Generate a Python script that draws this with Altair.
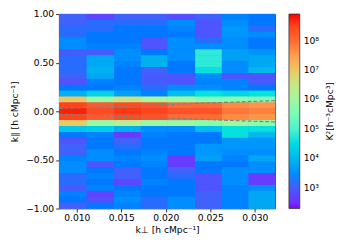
import altair as alt
import numpy as np
import pandas as pd

# k_perp bin edges [h cMpc^-1]
kperp_edges = [0.0080, 0.0111, 0.0142, 0.0172, 0.0202, 0.0233, 0.0263, 0.0293, 0.0323]
# k_par bins: 33 equal bins between -1 and 1
n_kpar = 33
kpar_edges = np.linspace(-1.0, 1.0, n_kpar + 1)

# log10 of power per cell, listed from top row (k_par = +1) to bottom row (k_par = -1)
col1 = [3.1, 3.1, 3.2, 3.2, 3.5, 3.5, 3.0, 3.2, 3.2, 3.2, 3.1, 2.8, 3.3, 3.9, 7.0, 8.5, 8.8,
        8.5, 7.0, 4.2, 3.3, 2.9, 3.1, 3.1, 3.4, 3.5, 3.5, 3.2, 3.2, 3.0, 3.4, 3.3, 3.1]
col2 = [2.7, 3.2, 3.2, 3.3, 3.3, 3.4, 3.0, 3.8, 3.8, 3.9, 3.8, 3.4, 3.3, 4.4, 5.9, 8.2, 8.4,
        8.2, 5.9, 4.3, 3.4, 3.3, 3.3, 3.5, 3.5, 2.9, 3.3, 3.4, 3.3, 3.4, 2.7, 2.8, 3.3]
col3 = [3.1, 3.2, 3.3, 3.3, 3.3, 3.4, 3.5, 3.5, 3.4, 3.3, 3.3, 3.3, 3.4, 3.7, 6.6, 8.4, 8.6,
        8.4, 6.3, 3.9, 2.6, 3.1, 3.2, 3.3, 3.4, 3.3, 3.1, 3.1, 2.7, 3.3, 3.4, 3.5, 3.4]
col4 = [3.1, 3.2, 3.3, 3.3, 2.9, 2.9, 3.3, 3.9, 3.9, 3.1, 3.0, 3.0, 3.2, 3.4, 6.1, 8.3, 8.5,
        8.3, 5.9, 3.5, 3.4, 3.3, 3.3, 3.4, 3.5, 3.4, 3.3, 3.3, 3.4, 3.3, 3.3, 3.2, 3.2]
col5 = [2.8, 3.5, 3.4, 3.3, 3.5, 3.5, 3.5, 3.5, 3.3, 3.3, 2.9, 2.9, 3.5, 4.1, 5.9, 8.0, 8.3,
        8.0, 5.9, 3.5, 3.3, 3.3, 3.3, 3.3, 2.6, 2.6, 3.1, 3.2, 3.3, 3.3, 3.3, 3.5, 3.5]
col6 = [3.1, 2.9, 2.9, 2.9, 3.2, 3.5, 4.7, 4.7, 4.7, 4.6, 3.5, 3.4, 3.5, 4.6, 5.6, 8.0, 8.3,
        8.0, 5.7, 4.1, 3.3, 3.3, 3.6, 3.6, 3.7, 3.3, 3.3, 2.9, 2.9, 2.9, 3.1, 3.1, 3.1]
col7 = [3.4, 3.5, 3.6, 3.6, 3.5, 3.5, 3.7, 3.7, 3.5, 3.5, 2.9, 3.4, 3.4, 4.4, 5.7, 7.7, 7.9,
        7.7, 6.0, 4.6, 4.6, 3.6, 3.6, 3.5, 3.4, 3.3, 3.5, 3.5, 3.5, 3.4, 3.4, 3.4, 3.4]
col8 = [3.3, 3.3, 3.2, 3.5, 3.3, 3.3, 3.6, 3.8, 3.8, 4.0, 2.9, 3.0, 3.3, 4.6, 5.6, 7.6, 7.8,
        7.6, 5.8, 4.6, 4.0, 3.6, 3.6, 3.5, 3.8, 3.5, 3.5, 2.6, 2.6, 3.5, 3.8, 3.8, 3.8]
columns = [col1, col2, col3, col4, col5, col6, col7, col8]

# horizon wedge (dashed lines)
wedge_x = [0.0080, 0.0323]
wedge_upper = [0.03, 0.11]
wedge_lower = [-0.03, -0.11]

# colour bar ticks (log10)
cbar_ticks = [3, 4, 5, 6, 7, 8]
cbar_min, cbar_max = 2.3, 8.9
cbar_title = "K²[h⁻³cMpc³]"
rainbow = ["#8000ff", "#4062fa", "#00b4ec", "#40ecd4", "#80ffb4",
           "#bfec8e", "#ffb462", "#ff6232", "#ff0000"]

rows = []
for j, col in enumerate(columns):
    for i, v in enumerate(col):
        rows.append(dict(x0=kperp_edges[j], x1=kperp_edges[j + 1],
                         y0=float(kpar_edges[n_kpar - i - 1]), y1=float(kpar_edges[n_kpar - i]),
                         logP=v))
df = pd.DataFrame(rows)

wedge_df = pd.DataFrame(
    [dict(x=x, y=y, side="upper") for x, y in zip(wedge_x, wedge_upper)]
    + [dict(x=x, y=y, side="lower") for x, y in zip(wedge_x, wedge_lower)]
)

font = "DejaVu Sans"
fs = 9.3
stops = [cbar_min + k * (cbar_max - cbar_min) / 8 for k in range(9)]
cscale = alt.Scale(domain=stops, range=rainbow, type="linear")

xscale = alt.Scale(domain=[kperp_edges[0], kperp_edges[-1]], nice=False, zero=False)
yscale = alt.Scale(domain=[-1, 1], nice=False, zero=False)

label_expr = ("datum.value == 3 ? '10³' : datum.value == 4 ? '10⁴' : datum.value == 5 ? '10⁵' : "
              "datum.value == 6 ? '10⁶' : datum.value == 7 ? '10⁷' : '10⁸'")

heat = alt.Chart(df).mark_rect().encode(
    x=alt.X("x0:Q", scale=xscale,
            axis=alt.Axis(title="k⊥ [h cMpc⁻¹]", values=[0.010, 0.015, 0.020, 0.025, 0.030],
                          format=".3f", titlePadding=3, labelOverlap=False)),
    x2="x1:Q",
    y=alt.Y("y0:Q", scale=yscale,
            axis=alt.Axis(title="k∥ [h cMpc⁻¹]", values=[-1, -0.75, -0.5, -0.25, 0, 0.25, 0.5, 0.75, 1],
                          format=".2f", titlePadding=6, labelOverlap=False)),
    y2="y1:Q",
    color=alt.Color("logP:Q", scale=cscale,
                    legend=alt.Legend(type="gradient", title=None, orient="right", offset=11,
                                      padding=0, direction="vertical",
                                      gradientLength=198, gradientThickness=11,
                                      values=cbar_ticks, labelExpr=label_expr,
                                      labelFont=font, labelFontSize=fs, labelOverlap=False,
                                      gradientStrokeColor="#333", gradientStrokeWidth=0.8,
                                      labelOffset=4, labelColor="black")),
)

# identical second pass to hide anti-aliasing seams between cells
heat2 = alt.Chart(df).mark_rect().encode(
    x=alt.X("x0:Q", scale=xscale), x2="x1:Q",
    y=alt.Y("y0:Q", scale=yscale), y2="y1:Q",
    color=alt.Color("logP:Q", scale=cscale, legend=None),
)

wedge = alt.Chart(wedge_df).mark_line(color="#808080", strokeDash=[4, 2], strokeWidth=1.2).encode(
    x=alt.X("x:Q", scale=xscale),
    y=alt.Y("y:Q", scale=yscale),
    detail="side:N",
)

ctitle = alt.Chart(pd.DataFrame({"t": [cbar_title]})).mark_text(
    angle=270, font=font, fontSize=fs, color="black", align="center", baseline="middle"
).encode(text="t:N", x=alt.value(276), y=alt.value(99))

chart = alt.layer(heat, heat2, wedge, ctitle).properties(
    width=220, height=198,
    autosize=alt.AutoSizeParams(type="none"),
    padding={"left": 52, "top": 4, "right": 68, "bottom": 38},
).configure_view(stroke="#333", strokeWidth=0.8, fill="#3a6cf4").configure_axis(
    labelFont=font, labelFontSize=fs, titleFont=font, titleFontSize=fs,
    titleFontWeight="normal", labelColor="black", titleColor="black",
    tickColor="black", tickSize=3.5, tickWidth=0.8, domain=False,
    grid=True, gridColor="#b0b0b0", gridWidth=0.9, gridOpacity=0.9, zindex=1,
    labelPadding=2,
)

chart.save("out.html", embed_options={"renderer": "svg", "actions": False})
